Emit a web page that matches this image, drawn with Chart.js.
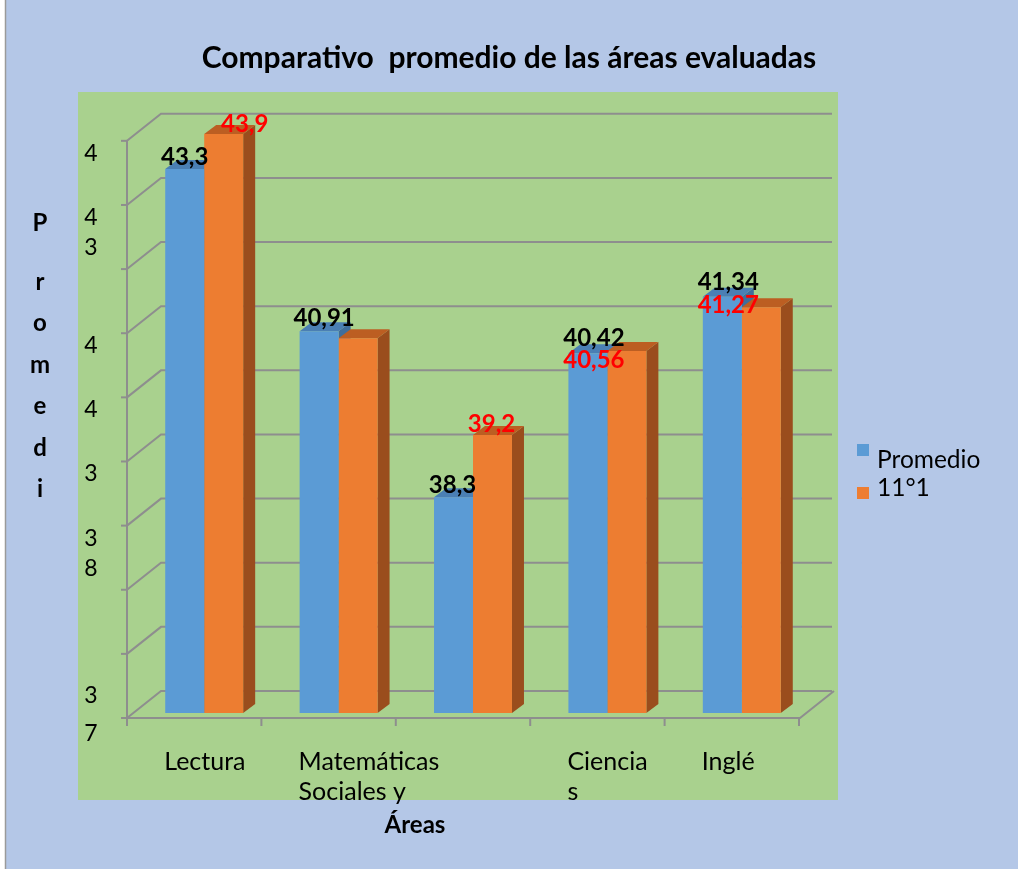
<!DOCTYPE html>
<html><head><meta charset="utf-8">
<script src="https://cdn.jsdelivr.net/npm/chart.js@4"></script>
<style>html,body{margin:0;padding:0;background:#fff;}canvas{display:block;}</style>
</head><body>
<canvas id="c" width="1018" height="869"></canvas>
<script>
// ---- data ----
const categories = [['Lectura'], ['Matemáticas', 'Sociales y'], [''], ['Ciencia', 's'], ['Inglé']];
const seriesNames = ['Promedio', '11°1'];
const promedio = [43.33, 40.55, 37.70, 40.17, 41.14];
const grupo111 = [43.93, 40.43, 38.77, 40.21, 40.96];
const promedioLabels = ['43,3', '40,91', '38,3', '40,42', '41,34'];
const grupoLabels = ['43,9', '', '39,2', '40,56', '41,27'];
const yTickLabels = [['3', '7'], [], [], ['3', '8'], ['3'], ['4'], ['4'], [], ['4', '3'], ['4']];
const yAxisMin = 34, yAxisMax = 44, yGridStep = 1.1;
const titleText = 'Comparativo  promedio de las áreas evaluadas';
const yTitleLetters = ['P', 'r', 'o', 'm', 'e', 'd', 'i'];
const xTitleText = 'Áreas';

// ---- style ----
const COLORS = {
  blue: '#5B9BD5', blueTop: '#4A7FB4', blueSide: '#3F6E9C',
  orange: '#ED7D31', orangeTop: '#BC5E22', orangeSide: '#9A4D1D',
  plot: '#A9D18E', page: '#B4C7E7', grid: '#8E8E8E'
};
const FONT = 'Lato, "Open Sans", sans-serif';
const DEPTH = { dx: 12, dy: 9 };        // bar extrusion
const WALL = { dx: 34, dy: 27 };        // back-wall offset
const labelNudge = [
  [[0, 0], [5, -1], [-1, 0], [6, -3], [6, -3]],
  [[21, 2], [0, 0], [-1, 1], [-33, 21], [-33, 10]]
];

const deco = {
  id: 'deco',
  beforeDraw(chart) {
    const ctx = chart.ctx;
    ctx.save();
    ctx.fillStyle = '#ffffff';
    ctx.fillRect(0, 0, chart.width, chart.height);
    ctx.fillStyle = COLORS.page;
    ctx.fillRect(6, 0, chart.width - 6, chart.height);
    ctx.strokeStyle = '#9a9a9a';
    ctx.lineWidth = 1.5;
    ctx.beginPath(); ctx.moveTo(5.5, 0); ctx.lineTo(5.5, chart.height); ctx.stroke();
    ctx.fillStyle = COLORS.plot;
    ctx.fillRect(78, 92, 760, 708);
    ctx.restore();
  },
  beforeDatasetsDraw(chart) {
    const ctx = chart.ctx, ca = chart.chartArea, ys = chart.scales.y;
    const nCat = categories.length;
    const catW = (ca.right - ca.left) / nCat;
    const fx = ca.left - 10;
    const frx = ca.right - 9;
    ctx.save();
    ctx.strokeStyle = COLORS.grid;
    ctx.lineWidth = 2;
    const nGrid = yTickLabels.length;
    const yb = k => ys.getPixelForValue(yAxisMin + k * yGridStep);
    for (let k = 0; k < nGrid; k++) {
      const y = yb(k);
      ctx.beginPath();
      ctx.moveTo(fx, y + 5); ctx.lineTo(fx + WALL.dx, y + 5 - WALL.dy);
      ctx.lineTo(ca.right + 23, y + 5 - WALL.dy);
      ctx.stroke();
      ctx.beginPath(); ctx.moveTo(fx - 6, y + 5); ctx.lineTo(fx, y + 5); ctx.stroke();
    }
    ctx.beginPath(); ctx.moveTo(fx, yb(nGrid - 1) + 5); ctx.lineTo(fx, yb(0) + 12); ctx.stroke();
    const f0 = yb(0) + 5;
    ctx.beginPath(); ctx.moveTo(fx, f0); ctx.lineTo(frx, f0); ctx.lineTo(frx + WALL.dx, f0 - WALL.dy); ctx.stroke();
    for (let i = 0; i <= nCat; i++) {
      const x = fx + i * catW;
      ctx.beginPath(); ctx.moveTo(x, f0); ctx.lineTo(x, f0 + 8); ctx.stroke();
    }
    const metas = [chart.getDatasetMeta(0), chart.getDatasetMeta(1)];
    const tops = [COLORS.blueTop, COLORS.orangeTop];
    const sides = [COLORS.blueSide, COLORS.orangeSide];
    for (let i = 0; i < nCat; i++) {
      metas.forEach((m, d) => {
        const el = m.data[i];
        const p = el.getProps(['x', 'y', 'base', 'width'], true);
        const base = Math.min(p.base, ca.bottom);
        const l = p.x - p.width / 2, r = p.x + p.width / 2;
        ctx.fillStyle = sides[d];
        ctx.beginPath();
        ctx.moveTo(r, p.y); ctx.lineTo(r + DEPTH.dx, p.y - DEPTH.dy);
        ctx.lineTo(r + DEPTH.dx, base - DEPTH.dy); ctx.lineTo(r, base);
        ctx.closePath(); ctx.fill();
        ctx.fillStyle = tops[d];
        ctx.beginPath();
        ctx.moveTo(l, p.y); ctx.lineTo(l + DEPTH.dx, p.y - DEPTH.dy);
        ctx.lineTo(r + DEPTH.dx, p.y - DEPTH.dy); ctx.lineTo(r, p.y);
        ctx.closePath(); ctx.fill();
      });
    }
    ctx.restore();
  },
  afterDraw(chart) {
    const ctx = chart.ctx, ys = chart.scales.y;
    ctx.save();
    ctx.fillStyle = '#000';
    ctx.textAlign = 'center';
    ctx.textBaseline = 'alphabetic';
    ctx.font = '23px ' + FONT;
    yTickLabels.forEach((lines, k) => {
      const front = ys.getPixelForValue(yAxisMin + k * yGridStep) + 5;
      const pitch = k === 0 ? 38 : 30;
      const top = k === 0 ? front - 31 : front + 4;
      lines.forEach((t, j) => ctx.fillText(t, 91, top + 16 + j * pitch));
    });
    ctx.font = 'bold 24px ' + FONT;
    yTitleLetters.forEach((t, i) => {
      const base = i === 0 ? 231 : 290 + (i - 1) * 41.4;
      ctx.fillText(t, 40, base);
    });
    ctx.font = 'bold 24px ' + FONT;
    ctx.fillText(xTitleText, 415, 833);
    ctx.font = 'bold 24px ' + FONT;
    const lbls = [promedioLabels, grupoLabels];
    const cols = ['#000000', '#FF0000'];
    [0, 1].forEach(d => {
      const m = chart.getDatasetMeta(d);
      m.data.forEach((el, i) => {
        const t = lbls[d][i];
        if (!t) return;
        const p = el.getProps(['x', 'y'], true);
        ctx.fillStyle = cols[d];
        ctx.fillText(t, p.x + labelNudge[d][i][0], p.y - 4 + labelNudge[d][i][1]);
      });
    });
    ctx.textAlign = 'left';
    ctx.font = '24.5px ' + FONT;
    const legCols = [COLORS.blue, COLORS.orange];
    const sq = [444, 487], tb = [468, 496];
    seriesNames.forEach((n, i) => {
      ctx.fillStyle = legCols[i];
      ctx.fillRect(857, sq[i], 12, 12);
      ctx.fillStyle = '#000';
      ctx.fillText(n, 877, tb[i]);
    });
    ctx.restore();
  }
};

new Chart(document.getElementById('c'), {
  type: 'bar',
  data: {
    labels: categories,
    datasets: [
      { label: seriesNames[0], data: promedio, backgroundColor: COLORS.blue, borderWidth: 0 },
      { label: seriesNames[1], data: grupo111, backgroundColor: COLORS.orange, borderWidth: 0 }
    ]
  },
  options: {
    responsive: false,
    animation: false,
    events: [],
    layout: { padding: 0 },
    datasets: { bar: { barPercentage: 1, categoryPercentage: 0.58 } },
    plugins: {
      legend: { display: false },
      tooltip: { enabled: false },
      title: {
        display: true, text: titleText, color: '#000',
        font: { family: FONT, size: 30, weight: 'bold' },
        padding: { top: 40, bottom: 54 }
      }
    },
    scales: {
      x: {
        grid: { display: false, drawTicks: false },
        border: { display: false },
        ticks: {
          color: '#000', font: { family: FONT, size: 25 },
          align: 'start', labelOffset: -40, padding: 34,
          maxRotation: 0, autoSkip: false
        },
        afterFit: s => { s.height = 156; }
      },
      y: {
        min: yAxisMin, max: yAxisMax,
        grid: { display: false, drawTicks: false },
        border: { display: false },
        ticks: { display: false },
        afterFit: s => { s.width = 137; }
      },
      y2: {
        position: 'right',
        grid: { display: false, drawTicks: false },
        border: { display: false },
        ticks: { display: false },
        afterFit: s => { s.width = 209; }
      }
    }
  },
  plugins: [deco]
});
</script>
</body></html>
